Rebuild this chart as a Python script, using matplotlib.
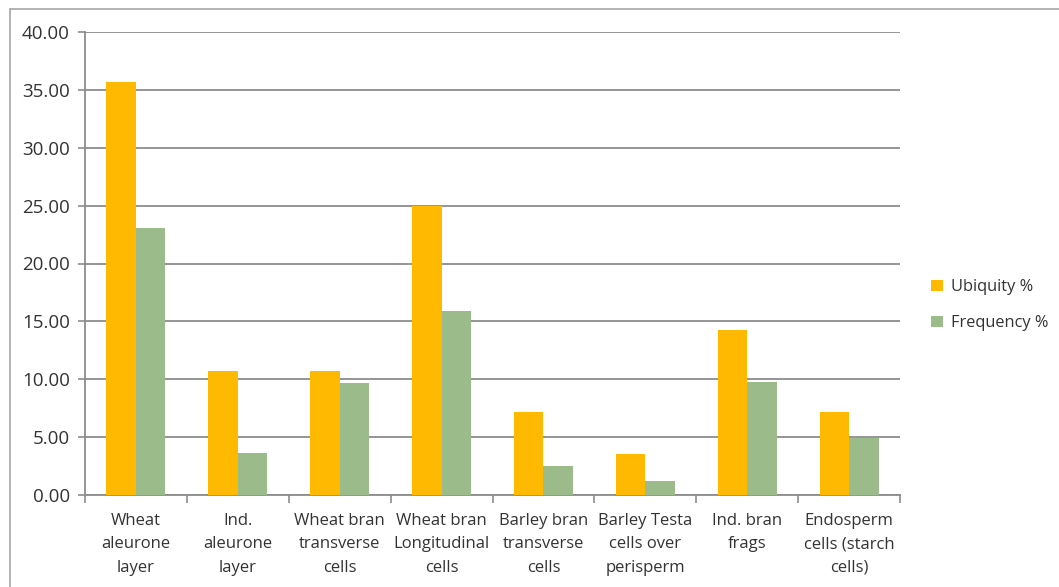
import numpy as np
import matplotlib.pyplot as plt
from matplotlib.patches import Rectangle
from matplotlib.ticker import FormatStrFormatter, FixedLocator

# --- data ---
categories = ['Wheat\naleurone\nlayer', 'Ind.\naleurone\nlayer', 'Wheat bran\ntransverse\ncells',
              'Wheat bran\nLongitudinal\ncells', 'Barley bran\ntransverse\ncells',
              'Barley Testa\ncells over\nperisperm', 'Ind. bran\nfrags', 'Endosperm\ncells (starch\ncells)']
ubiquity = [35.71, 10.71, 10.71, 25.00, 7.14, 3.57, 14.29, 7.14]
frequency = [23.1, 3.6, 9.7, 15.9, 2.5, 1.2, 9.8, 4.9]

plt.rcParams['font.family'] = ['Open Sans', 'DejaVu Sans']
txt = '#333333'
grid_c = '#8c8c8c'

fig = plt.figure(figsize=(10.59, 5.87), dpi=100)
ax = fig.add_axes([85/1059, 1-495/587, (900-85)/1059, (495-32)/587])

x = np.arange(len(categories))
w = 0.29
ax.bar(x - w/2, ubiquity, w, color='#FFBA00', label='Ubiquity %', zorder=3)
ax.bar(x + w/2, frequency, w, color='#9BBB8A', label='Frequency %', zorder=3)

ax.set_xlim(-0.5, len(categories) - 0.5)
ax.set_ylim(0, 40)
ax.set_yticks(np.arange(0, 40.1, 5))
ax.yaxis.set_major_formatter(FormatStrFormatter('%.2f'))
ax.grid(axis='y', color=grid_c, linewidth=1.3, zorder=0)

ax.set_xticks(x)
ax.set_xticklabels(categories, fontsize=12, color=txt, linespacing=1.62)
ax.tick_params(axis='x', length=0, pad=13)
ax.xaxis.set_minor_locator(FixedLocator(np.arange(-0.5, len(categories), 1)))
ax.tick_params(axis='x', which='minor', length=6, color=grid_c, width=1.2, direction='out')
ax.tick_params(axis='y', labelsize=13.5, labelcolor=txt, length=5, color=grid_c, width=1.2, pad=6)

for s in ['top', 'right']:
    ax.spines[s].set_visible(False)
for s in ['left', 'bottom']:
    ax.spines[s].set_color(grid_c)
    ax.spines[s].set_linewidth(1.3)

leg = ax.legend(loc='center left', bbox_to_anchor=(1.02, 0.41), frameon=False,
                fontsize=11.8, handlelength=0.7, handleheight=0.7, labelspacing=1.2,
                handletextpad=0.5)
for t in leg.get_texts():
    t.set_color(txt)

# thin border around the chart area
fig.patches.append(Rectangle((10/1059, -0.05), 1, 1.05-9/587, transform=fig.transFigure,
                             fill=False, edgecolor='#a6a6a6', linewidth=1.2))

fig.savefig('out.png', dpi=100)
